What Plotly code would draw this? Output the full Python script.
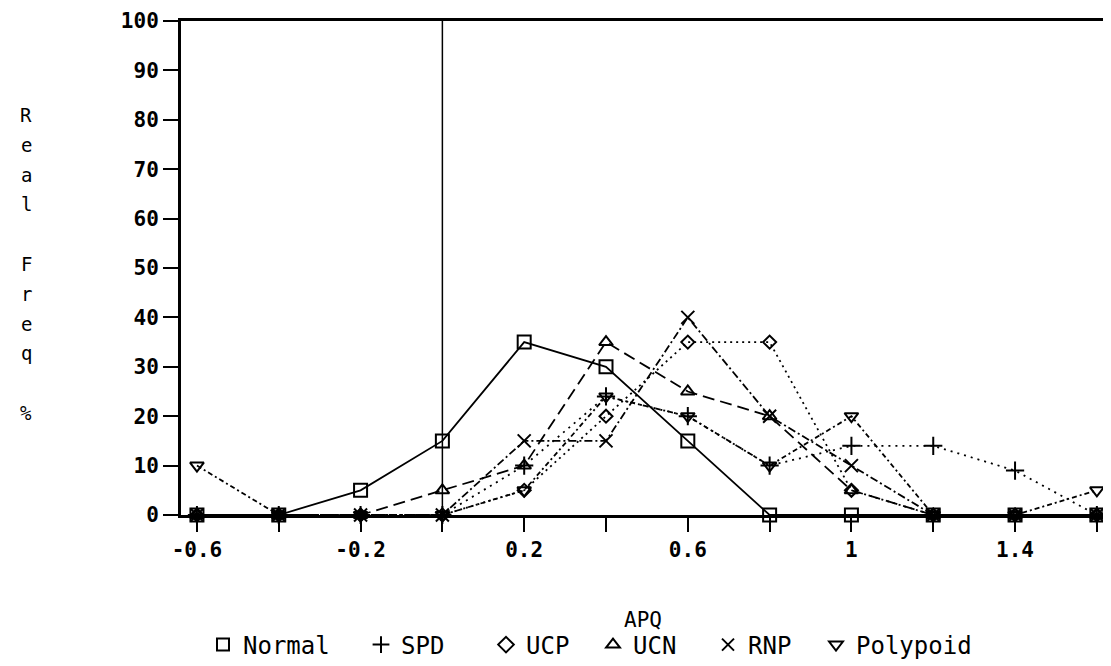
import plotly.graph_objects as go

apq = [-0.6, -0.4, -0.2, 0.0, 0.2, 0.4, 0.6, 0.8, 1.0, 1.2, 1.4, 1.6]

normal   = [0, 0, 5, 15, 35, 30, 15, 0, 0, 0, 0, 0]
spd      = [0, 0, 0, 0, 10, 24, 20, 10, 14, 14, 9, 0]
ucp      = [0, 0, 0, 0, 5, 20, 35, 35, 5, 0, 0, 0]
ucn      = [0, 0, 0, 5, 10, 35, 25, 20, 5, 0, 0, 0]
rnp      = [0, 0, 0, 0, 15, 15, 40, 20, 10, 0, 0, 0]
polypoid = [10, 0, 0, 0, 5, 24, 20, 10, 20, 0, 0, 5]

series_names = ["Normal", "SPD", "UCP", "UCN", "RNP", "Polypoid"]
series_vals = [normal, spd, ucp, ucn, rnp, polypoid]
symbols = ["square-open", "cross-thin-open", "diamond-open", "triangle-up-open",
           "x-thin-open", "triangle-down-open"]
dashes = ["solid", "2px,5px", "2px,4px", "12px,6px", "8px,3px,2px,3px", "5px,3px,2px,3px"]
sizes = [13, 13, 10, 12, 13, 12]

xtick_vals = [-0.6, -0.4, -0.2, 0.0, 0.2, 0.4, 0.6, 0.8, 1.0, 1.2, 1.4, 1.6]
xtick_text = ["-0.6", "", "-0.2", "", "0.2", "", "0.6", "", "1", "", "1.4", ""]
ytick_vals = [0, 10, 20, 30, 40, 50, 60, 70, 80, 90, 100]

y_title_letters = ["R", "e", "a", "l", "F", "r", "e", "q", "%"]
y_title_rows = [0, 1, 2, 3, 5, 6, 7, 8, 10]

# legend entry positions (page px of each entry's left edge)
legend_left = [202, 360, 485, 592, 707, 815]
legend_ids = ["legend", "legend2", "legend3", "legend4", "legend5", "legend6"]

FONT = "DejaVu Sans Mono"

# page offset of the figure (default body margin) and layout geometry in page px
OFF = 7
W, H = 1111 - OFF, 666 - OFF
PL, PT, PB = 180 - OFF, 20 - OFF, 514 - OFF   # plot left / top / bottom in figure px
PW, PH = W - PL, PB - PT


def px(xp):
    return (xp - OFF - PL) / PW


def py(yp):
    return (PB - (yp - OFF)) / PH


fig = go.Figure()
for name, vals, sym, dash, sz, lid in zip(series_names, series_vals, symbols,
                                          dashes, sizes, legend_ids):
    fig.add_trace(go.Scatter(
        x=apq, y=vals, mode="lines+markers", name=name, showlegend=False,
        line=dict(color="black", width=1.8, dash=dash),
        marker=dict(symbol=sym, size=sz, color="black",
                    line=dict(color="black", width=2)),
        cliponaxis=False,
    ))
    fig.add_trace(go.Scatter(
        x=[None], y=[None], mode="markers", name=name, showlegend=True, legend=lid,
        marker=dict(symbol=sym, size=12, color="black",
                    line=dict(color="black", width=2)),
    ))

fig.add_shape(type="line", x0=0, x1=0, y0=0, y1=100, xref="x", yref="y",
              line=dict(color="black", width=1.5))

# vertical stacked y-axis title, one letter per row
for letter, row in zip(y_title_letters, y_title_rows):
    fig.add_annotation(
        text=letter, xref="paper", yref="paper",
        x=px(25), y=py(114 + row * 29.8),
        xanchor="center", yanchor="middle", showarrow=False,
        font=dict(family=FONT, size=19, color="black"),
    )

fig.add_annotation(
    text="APQ", xref="paper", yref="paper", x=px(642), y=py(619),
    xanchor="center", yanchor="middle", showarrow=False,
    font=dict(family=FONT, size=21, color="black"),
)

legend_layout = {}
for lid, xl in zip(legend_ids, legend_left):
    legend_layout[lid] = dict(
        orientation="h", x=px(xl), y=py(644), xanchor="left", yanchor="middle",
        font=dict(family=FONT, size=24, color="black"),
        itemwidth=30, bgcolor="rgba(0,0,0,0)",
    )

fig.update_layout(
    width=W, height=H,
    margin=dict(l=PL, r=0, t=PT, b=H - PB, autoexpand=False),
    paper_bgcolor="white", plot_bgcolor="white",
    font=dict(family=FONT, size=19, color="black"),
    xaxis=dict(
        range=[-0.639, 1.637], tickmode="array", tickvals=xtick_vals, ticktext=xtick_text,
        ticks="outside", ticklen=14, tickwidth=2, tickcolor="black",
        showline=True, linewidth=3, linecolor="black", mirror=True,
        showgrid=False, zeroline=False, automargin=False,
        tickfont=dict(family=FONT, size=21, color="black", weight="bold"),
    ),
    yaxis=dict(
        range=[0, 100], tickmode="array", tickvals=ytick_vals,
        ticks="outside", ticklen=15, tickwidth=2, tickcolor="black",
        showline=True, linewidth=3, linecolor="black",
        showgrid=False, zeroline=False, automargin=False,
        tickfont=dict(family=FONT, size=21, color="black", weight="bold"),
    ),
    **legend_layout,
)

fig.write_html("out.html")
